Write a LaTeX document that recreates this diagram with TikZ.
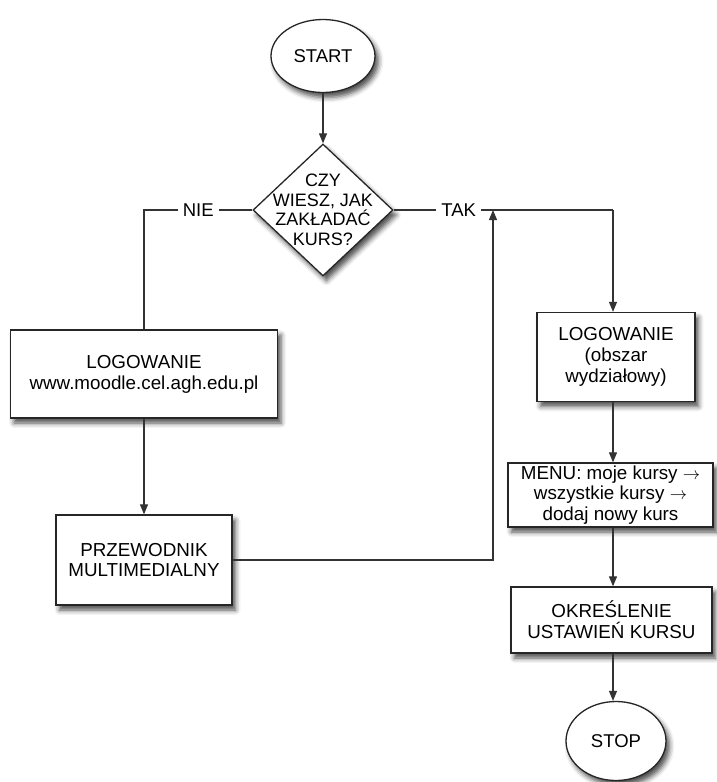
\documentclass[tikz,border=0pt]{standalone}
\usepackage{fontspec}
\setmainfont{Liberation Sans}
\usetikzlibrary{shapes.geometric,arrows.meta,shadows.blur}
\begin{document}
\begin{tikzpicture}[x=1pt,y=-1pt,
  shad/.style={blur shadow={shadow xshift=3.5pt, shadow yshift=-5pt, shadow blur radius=5pt, shadow opacity=70}},
  box/.style={draw=black!85, line width=1.3pt, fill=white, rectangle, inner sep=0pt, align=center, font=\fontsize{18.8}{20.8}\selectfont, shad},
  term/.style={draw=black!85, line width=1.3pt, fill=white, ellipse, inner sep=0pt, font=\fontsize{18.5}{21}\selectfont, shad},
  decision/.style={draw=black!85, line width=1.3pt, fill=white, diamond, inner sep=0pt, shad},
  conn/.style={draw=black!80, line width=1.1pt},
  arr/.style={conn, -{Triangle[width=8pt,length=10pt]}},
  lbl/.style={fill=white, inner sep=5pt, font=\fontsize{18.5}{21}\selectfont}
]
\useasboundingbox (0,0) rectangle (716,782);

\node[term, minimum width=104pt, minimum height=73pt] (start) at (323,56) {START};
\node[decision, minimum width=140pt, minimum height=132pt] (dec) at (323,210) {};
\node[align=center, inner sep=0pt, font=\fontsize{18}{19.5}\selectfont] (dectext) at (dec.center) {CZY\\WIESZ, JAK\\ZAKŁADAĆ\\KURS?};

\node[box, minimum width=267pt, minimum height=88pt] (logl) at (144,374) {LOGOWANIE\\www.moodle.cel.agh.edu.pl};
\node[box, minimum width=176pt, minimum height=90pt] (przew) at (144,560) {PRZEWODNIK\\MULTIMEDIALNY};
\node[box, minimum width=158pt, minimum height=89pt] (logr) at (616,357) {LOGOWANIE\\(obszar\\wydziałowy)};
\node[box, minimum width=205pt, minimum height=64pt] (menu) at (610.5,495) {MENU: moje kursy $\rightarrow$\\wszystkie kursy $\rightarrow$\\dodaj nowy kurs};
\node[box, minimum width=201pt, minimum height=66pt] (okr) at (611.5,620) {OKREŚLENIE\\USTAWIEŃ KURSU};
\node[term, minimum width=100pt, minimum height=79pt] (stop) at (616,741) {STOP};

\coordinate (nl) at (144,210);
\coordinate (tj) at (493,210);
\coordinate (tr) at (613,210);

\draw[arr] (start) -- (dec);
\draw[conn] (dec.west) -- node[lbl]{NIE} (nl) -- (logl.north);
\draw[arr] (logl) -- (przew);
\draw[arr] (przew.east) -| (tj);
\draw[conn] (dec.east) -- node[lbl, pos=0.655]{TAK} (tj) -- (tr);
\draw[arr] (tr) -- (tr |- logr.north);
\draw[arr] (tr |- logr.south) -- (tr |- menu.north);
\draw[arr] (tr |- menu.south) -- (tr |- okr.north);
\draw[arr] (tr |- okr.south) -- (tr |- stop.north);
\end{tikzpicture}
\end{document}
